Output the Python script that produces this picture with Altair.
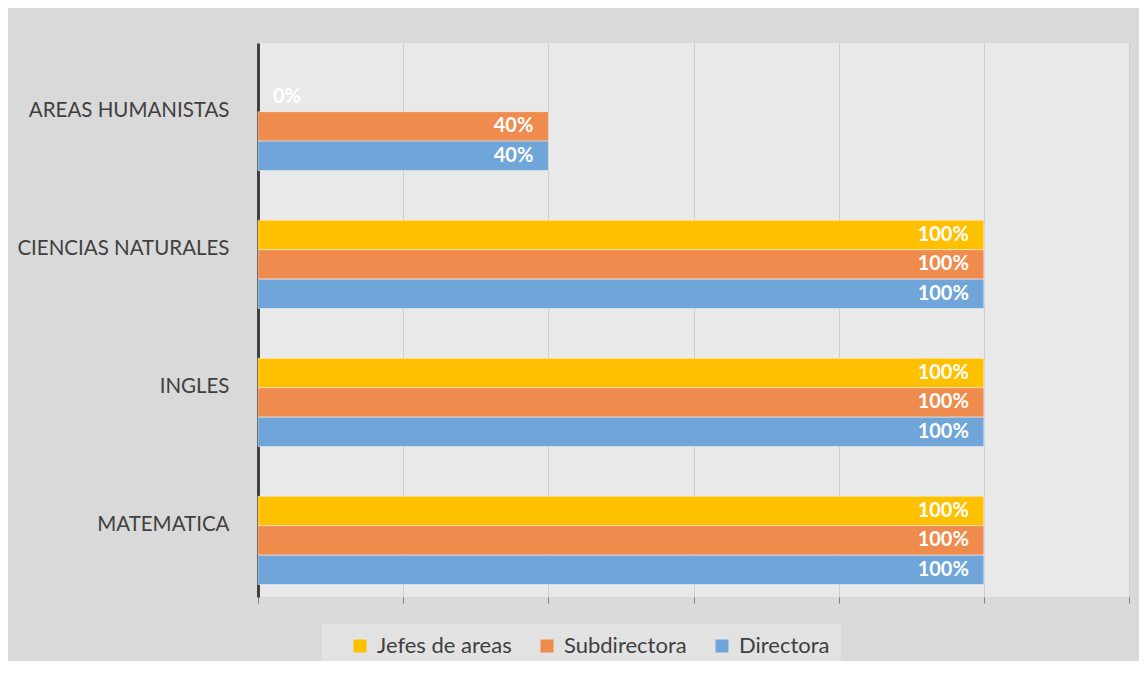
import altair as alt
import pandas as pd

categories = ["AREAS HUMANISTAS", "CIENCIAS NATURALES", "INGLES", "MATEMATICA"]
series = ["Jefes de areas", "Subdirectora", "Directora"]
jefes = [0.0, 1.0, 1.0, 1.0]
subdirectora = [0.4, 1.0, 1.0, 1.0]
directora = [0.4, 1.0, 1.0, 1.0]
colors = ["#FFC000", "#EE8B4D", "#6FA5D8"]
x_ticks = [0, 0.2, 0.4, 0.6, 0.8, 1.0, 1.2]

rows = []
for s, vals in zip(series, [jefes, subdirectora, directora]):
    for c, v in zip(categories, vals):
        rows.append({"Categoria": c, "Serie": s, "Valor": v})
df = pd.DataFrame(rows)

FONT = "Lato"

y_enc = alt.Y(
    "Categoria:N",
    sort=categories,
    scale=alt.Scale(paddingInner=0.36, paddingOuter=0.187, align=0.76),
    axis=alt.Axis(
        title=None,
        ticks=False,
        domain=True,
        domainColor="#404040",
        domainWidth=3,
        labelFont=FONT,
        labelFontSize=20.5,
        labelColor="#404040",
        labelPadding=29,
        labelOffset=-15,
        labelLimit=400,
    ),
)
yoff_enc = alt.YOffset("Serie:N", sort=series, scale=alt.Scale(paddingInner=0))
x_enc = alt.X(
    "Valor:Q",
    scale=alt.Scale(domain=[0, 1.2], nice=False),
    axis=alt.Axis(
        title=None,
        values=x_ticks,
        labels=False,
        domain=False,
        grid=True,
        gridColor="#cdcdcd",
        gridWidth=1,
        ticks=True,
        tickColor="#808080",
        tickSize=6,
        tickWidth=1,
    ),
)

base = alt.Chart(df)

bars = base.mark_bar(stroke="#ffffff", strokeWidth=1).encode(
    y=y_enc,
    yOffset=yoff_enc,
    x=x_enc,
    strokeOpacity=alt.condition("datum.Valor > 0", alt.value(0.45), alt.value(0)),
    color=alt.Color(
        "Serie:N",
        sort=series,
        scale=alt.Scale(domain=series, range=colors),
        legend=alt.Legend(
            title=None,
            orient="none",
            legendX=64,
            legendY=581,
            direction="horizontal",
            fillColor="#e2e2e2",
            padding=11,
            symbolType="square",
            symbolSize=169,
            symbolStrokeWidth=0,
            symbolOffset=16,
            labelFont=FONT,
            labelFontSize=22,
            labelColor="#404040",
            labelOffset=6,
            columnPadding=8,
        ),
    ),
)

labels_pos = base.transform_filter("datum.Valor > 0").mark_text(
    align="right", baseline="middle", dx=-15, font=FONT, fontSize=20,
    fontWeight="bold", color="#ffffff",
).encode(
    y=alt.Y("Categoria:N", sort=categories),
    yOffset=alt.YOffset("Serie:N", sort=series),
    x=alt.X("Valor:Q"),
    text=alt.Text("Valor:Q", format=".0%"),
)

labels_zero = base.transform_filter("datum.Valor == 0").mark_text(
    align="left", baseline="middle", dx=15, font=FONT, fontSize=20,
    fontWeight="bold", color="#ffffff",
).encode(
    y=alt.Y("Categoria:N", sort=categories),
    yOffset=alt.YOffset("Serie:N", sort=series),
    x=alt.X("Valor:Q"),
    text=alt.Text("Valor:Q", format=".0%"),
)

chart = (
    alt.layer(bars, labels_pos, labels_zero)
    .properties(
        width=871,
        height=554,
        autosize=alt.AutoSizeParams(type="none"),
        padding={"left": 250, "top": 35, "right": 10, "bottom": 64},
    )
    .configure(background="#d9d9d9")
    .configure_view(stroke=None, fill="#e9e9e9")
)

chart.save("out.html", embed_options={"renderer": "svg", "actions": False})
